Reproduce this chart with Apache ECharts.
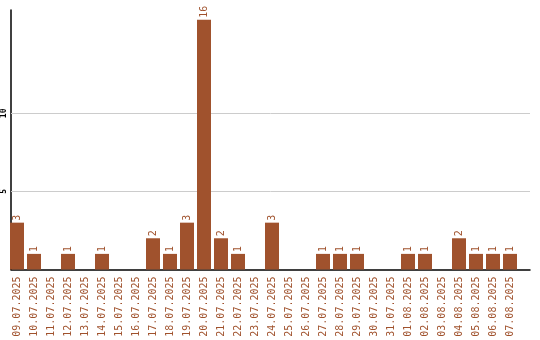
<!DOCTYPE html>
<html><head><meta charset="utf-8">
<script src="https://cdn.jsdelivr.net/npm/echarts@6/dist/echarts.min.js"></script>
<style>html,body{margin:0;padding:0;background:#fff}#c{width:540px;height:340px}</style>
</head><body><div id="c"></div>
<script>
var categories = ["09.07.2025","10.07.2025","11.07.2025","12.07.2025","13.07.2025","14.07.2025","15.07.2025","16.07.2025","17.07.2025","18.07.2025","19.07.2025","20.07.2025","21.07.2025","22.07.2025","23.07.2025","24.07.2025","25.07.2025","26.07.2025","27.07.2025","28.07.2025","29.07.2025","30.07.2025","31.07.2025","01.08.2025","02.08.2025","03.08.2025","04.08.2025","05.08.2025","06.08.2025","07.08.2025"];
var values = [3,1,0,1,0,1,0,0,2,1,3,16,2,1,0,3,0,0,1,1,1,0,0,1,1,0,2,1,1,1];
var gridValues = [5,10];
var yMax = 16.62;
var brown = '#A0522D';
var mono = "'DejaVu Sans Mono', monospace";
var chart = echarts.init(document.getElementById('c'), null, {renderer:'canvas'});
chart.setOption({
  animation:false,
  backgroundColor:'#fff',
  grid:[
    {left:8.5, top:10, width:510, height:259.5},
    {left:10, top:10, width:520, height:259.5}
  ],
  xAxis:[
    {type:'category', gridIndex:0, data:categories,
     axisLine:{show:false}, axisTick:{show:false}, splitLine:{show:false},
     axisLabel:{rotate:90, interval:0, color:brown, fontFamily:mono, fontSize:10, margin:7}},
    {type:'value', gridIndex:1, min:0, max:1,
     axisLine:{show:true, onZero:false, lineStyle:{color:'#000', width:1.5}},
     axisTick:{show:false}, axisLabel:{show:false}, splitLine:{show:false}}
  ],
  yAxis:[
    {type:'value', gridIndex:0, min:0, max:yMax, show:false, splitLine:{show:false}},
    {type:'value', gridIndex:1, min:0, max:yMax, interval:5,
     axisLine:{show:true, lineStyle:{color:'#000', width:1.5}},
     axisTick:{show:false}, splitLine:{show:false},
     axisLabel:{rotate:90, margin:3, color:'#000', fontFamily:mono, fontSize:8, fontWeight:'bold',
       formatter:function(v){return gridValues.indexOf(v)>=0 ? String(v) : '';}}}
  ],
  series:[
    {type:'line', xAxisIndex:1, yAxisIndex:1, data:[], z:0, silent:true,
     markLine:{silent:true, symbol:'none', label:{show:false},
       lineStyle:{color:'#cccccc', type:'solid', width:1},
       data:gridValues.map(function(v){return {yAxis:v};})}},
    {type:'bar', xAxisIndex:0, yAxisIndex:0, data:values, zlevel:1, z:3,
     barWidth:14, itemStyle:{color:brown},
     label:{show:true, position:'top', rotate:90, align:'left', verticalAlign:'middle', distance:2,
       color:brown, fontFamily:mono, fontSize:10,
       formatter:function(p){return p.value>0 ? String(p.value) : '';}}}
  ]
});
</script></body></html>
